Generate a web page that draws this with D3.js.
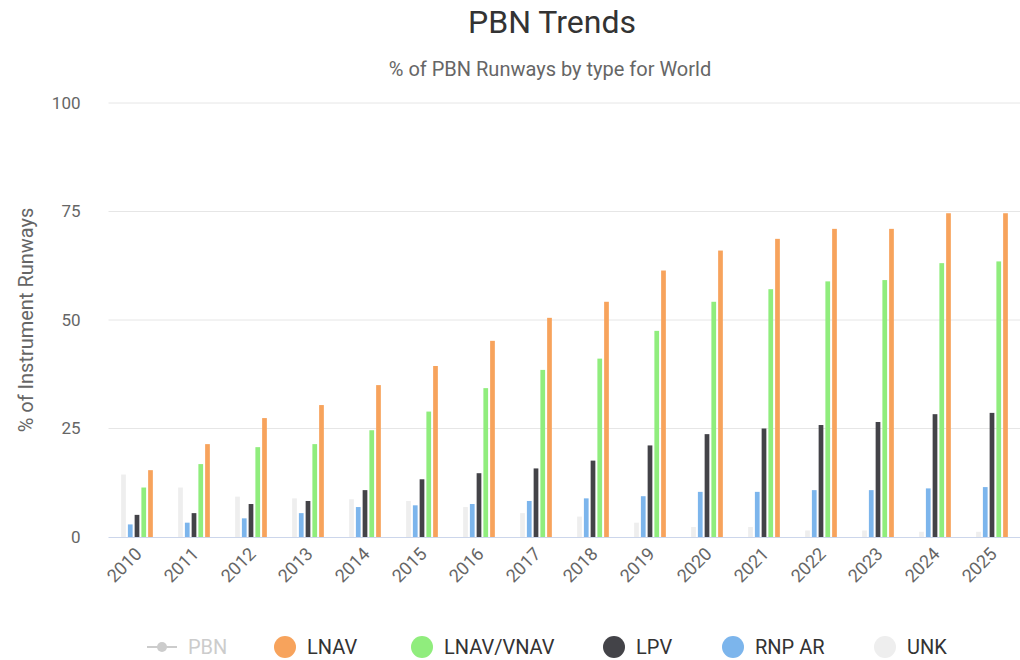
<!DOCTYPE html>
<html>
<head>
<meta charset="utf-8">
<script src="https://cdn.jsdelivr.net/npm/d3@7"></script>
<style>
  body { margin: 0; background: #fff; }
  svg { font-family: Roboto, "Noto Sans", sans-serif; }
</style>
</head>
<body>
<svg id="chart" width="1020" height="660"></svg>
<script>
var years = ["2010","2011","2012","2013","2014","2015","2016","2017","2018","2019","2020","2021","2022","2023","2024","2025"];
var unk    = [14.4, 11.4, 9.3, 8.9, 8.7, 8.3, 6.9, 5.5, 4.7, 3.3, 2.3, 2.3, 1.5, 1.5, 1.2, 1.2];
var rnpAr  = [2.9, 3.3, 4.3, 5.5, 6.9, 7.3, 7.6, 8.3, 8.9, 9.4, 10.4, 10.4, 10.8, 10.8, 11.2, 11.5];
var lpv    = [5.1, 5.5, 7.6, 8.3, 10.8, 13.3, 14.7, 15.8, 17.6, 21.1, 23.7, 25.0, 25.8, 26.5, 28.3, 28.6];
var lnavVnav = [11.4, 16.8, 20.7, 21.4, 24.6, 28.9, 34.3, 38.5, 41.1, 47.5, 54.2, 57.1, 58.9, 59.2, 63.1, 63.5];
var lnav   = [15.4, 21.4, 27.4, 30.4, 35.0, 39.4, 45.2, 50.5, 54.2, 61.4, 66.0, 68.7, 71.0, 71.0, 74.6, 74.6];
var yTicks = [0, 25, 50, 75, 100];

// order of bars inside a group, left to right
var series = [
  { name: "UNK", values: unk, color: "#eeeeee" },
  { name: "RNP AR", values: rnpAr, color: "#7cb5ec" },
  { name: "LPV", values: lpv, color: "#434348" },
  { name: "LNAV/VNAV", values: lnavVnav, color: "#90ed7d" },
  { name: "LNAV", values: lnav, color: "#f7a35c" }
];
// legend order
var legendItems = [
  { name: "PBN", color: "#cccccc", hidden: true, x: 162 },
  { name: "LNAV", color: "#f7a35c", x: 285 },
  { name: "LNAV/VNAV", color: "#90ed7d", x: 422 },
  { name: "LPV", color: "#434348", x: 614 },
  { name: "RNP AR", color: "#7cb5ec", x: 733 },
  { name: "UNK", color: "#eeeeee", x: 885 }
];

var margin = { top: 103, left: 108.5, right: 0, bottom: 123 };
var width = 1020.5 - margin.left, height = 537 - margin.top;

var svg = d3.select("#chart");

svg.append("text").attr("x", 552).attr("y", 33).attr("text-anchor", "middle")
  .attr("font-size", 32).attr("fill", "#333333").text("PBN Trends");
svg.append("text").attr("x", 550).attr("y", 76).attr("text-anchor", "middle")
  .attr("font-size", 20).attr("fill", "#666666").text("% of PBN Runways by type for World");

var g = svg.append("g").attr("transform", `translate(${margin.left},${margin.top})`);

var x = d3.scaleBand().domain(years).range([0, width]).paddingInner(0).paddingOuter(0);
var x1 = d3.scaleBand().domain(series.map(d => d.name))
  .range([x.bandwidth() * 0.21, x.bandwidth() * 0.79]).paddingInner(0.3).paddingOuter(0.1);
var y = d3.scaleLinear().domain([0, 100]).range([height, 0]);

// gridlines
g.selectAll(".grid").data(yTicks.filter(d => d > 0)).enter().append("line")
  .attr("x1", 0).attr("x2", width)
  .attr("y1", d => y(d)).attr("y2", d => y(d))
  .attr("stroke", "#e6e6e6").attr("stroke-width", 1);

// y labels
g.selectAll(".ylab").data(yTicks).enter().append("text")
  .attr("x", -28).attr("y", d => y(d)).attr("dy", "0.35em")
  .attr("text-anchor", "end").attr("font-size", 17).attr("fill", "#666666")
  .text(d => d);

svg.append("text").attr("transform", "translate(33,320) rotate(-90)")
  .attr("text-anchor", "middle").attr("font-size", 20).attr("fill", "#666666")
  .text("% of Instrument Runways");

// bars
var groups = g.selectAll(".grp").data(years).enter().append("g")
  .attr("transform", d => `translate(${x(d)},0)`);
series.forEach(function (s) {
  groups.append("rect")
    .attr("x", (d, i) => x1(s.name))
    .attr("width", x1.bandwidth())
    .attr("y", (d, i) => y(s.values[i]))
    .attr("height", (d, i) => height - y(s.values[i]))
    .attr("fill", s.color);
});

// x axis line
g.append("line").attr("x1", 0).attr("x2", width).attr("y1", height + 0.5).attr("y2", height + 0.5)
  .attr("stroke", "#ccd6eb").attr("stroke-width", 1);

// x labels
g.selectAll(".xlab").data(years).enter().append("text")
  .attr("transform", d => `translate(${x(d) + x.bandwidth() / 2 + 6},${height + 18}) rotate(-45)`)
  .attr("text-anchor", "end").attr("font-size", 18).attr("fill", "#666666")
  .text(d => d);

// legend
var leg = svg.append("g").attr("transform", "translate(0,647)");
legendItems.forEach(function (item) {
  if (item.hidden) {
    leg.append("line").attr("x1", item.x - 15).attr("x2", item.x + 15)
      .attr("stroke", item.color).attr("stroke-width", 2);
    leg.append("circle").attr("cx", item.x).attr("r", 5).attr("fill", item.color);
    leg.append("text").attr("x", item.x + 26).attr("dy", "0.35em")
      .attr("font-size", 20).attr("fill", "#cccccc").text(item.name);
  } else {
    leg.append("circle").attr("cx", item.x).attr("r", 11).attr("fill", item.color);
    leg.append("text").attr("x", item.x + 22).attr("dy", "0.35em")
      .attr("font-size", 20).attr("fill", "#333333").text(item.name);
  }
});
</script>
</body>
</html>
